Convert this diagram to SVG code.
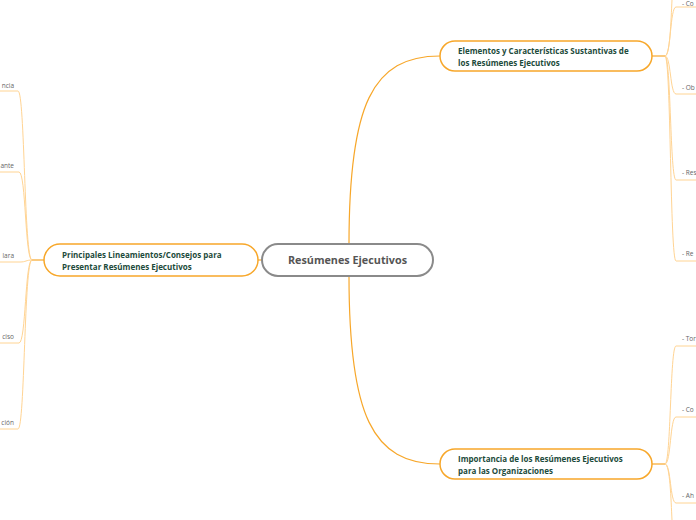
<svg xmlns="http://www.w3.org/2000/svg" width="696" height="520" viewBox="0 0 696 520">
<style>
.main{fill:none;stroke:#f7a72a;stroke-width:1.2}
.sub{fill:none;stroke:#ffd493;stroke-width:1}
.node{fill:#fff;stroke:#f7a72a;stroke-width:1.5}
.center{fill:#fff;stroke:#8a8a8a;stroke-width:2}
.nt{font-family:"Open Sans","Noto Sans",sans-serif;font-size:8px;font-weight:bold;fill:#1d4b3b}
.ct{font-family:"Open Sans","Noto Sans",sans-serif;font-size:10.8px;font-weight:bold;fill:#555}
.lt{font-family:"Open Sans","Noto Sans",sans-serif;font-size:6.5px;fill:#666}
</style>
<rect width="696" height="520" fill="#fff"/>
<g id="connectors">
<path class="main" d="M349,244 C349,105 372,56 440,56"/>
<path class="main" d="M349,276 C349,415 372,464 440,464"/>
<path class="main" d="M262,260 H258"/>
<path class="main" d="M44,260 H32"/>
<path class="main" d="M652,56 H665"/>
<path class="main" d="M652,464 H665"/>
<path class="sub" d="M32,260 C24,260 25,91 18,91 H0"/>
<path class="sub" d="M32,260 C25,260 26,172 19,172 H0"/>
<path class="sub" d="M32,260 C26,260 26,262 20,262 H0"/>
<path class="sub" d="M32,260 C25,260 26,343 19,343 H0"/>
<path class="sub" d="M32,260 C24,260 25,429 18,429 H0"/>
<path class="sub" d="M665,56 C671,56 670,7 676,7 H696"/>
<path class="sub" d="M665,56 C670,56 671,20 672,0"/>
<path class="sub" d="M665,56 C671,56 670,94 676,94 H696"/>
<path class="sub" d="M665,56 C671,56 670,180 676,180 H696"/>
<path class="sub" d="M665,56 C671,56 670,261 676,261 H696"/>
<path class="sub" d="M665,464 C671,464 670,346 676,346 H696"/>
<path class="sub" d="M665,464 C671,464 670,417 676,417 H696"/>
<path class="sub" d="M665,464 C671,464 670,503 676,503 H696"/>
<path class="sub" d="M665,464 C670,464 671,500 672,520"/>
</g>
<g id="center">
<rect class="center" x="262" y="244" width="171" height="32" rx="16"/>
<text class="ct" x="347.5" y="264" text-anchor="middle">Resúmenes Ejecutivos</text>
</g>
<g id="left">
<rect class="node" x="44" y="244" width="214" height="32" rx="16"/>
<text class="nt" x="62" y="257.5">Principales Lineamientos/Consejos para</text>
<text class="nt" x="62" y="269.5">Presentar Resúmenes Ejecutivos</text>
</g>
<g id="top">
<rect class="node" x="440" y="41" width="212" height="30" rx="15"/>
<text class="nt" x="458" y="53.5">Elementos y Características Sustantivas de</text>
<text class="nt" x="458" y="65.5">los Resúmenes Ejecutivos</text>
</g>
<g id="bottom">
<rect class="node" x="440" y="449" width="212" height="30" rx="15"/>
<text class="nt" x="458" y="461.5">Importancia de los Resúmenes Ejecutivos</text>
<text class="nt" x="458" y="473.5">para las Organizaciones</text>
</g>
<g id="left-children">
<text class="lt" x="14" y="88" text-anchor="end">ncia</text>
<text class="lt" x="14" y="168" text-anchor="end">ante</text>
<text class="lt" x="14" y="258" text-anchor="end">lara</text>
<text class="lt" x="14" y="339" text-anchor="end">ciso</text>
<text class="lt" x="14" y="425" text-anchor="end">ción</text>
</g>
<g id="right-children">
<text class="lt" x="682" y="6">- Co</text>
<text class="lt" x="682" y="90">- Ob</text>
<text class="lt" x="682" y="175">- Res</text>
<text class="lt" x="682" y="256">- Re</text>
<text class="lt" x="682" y="341">- Tor</text>
<text class="lt" x="682" y="412">- Co</text>
<text class="lt" x="682" y="498">- Ah</text>
</g>
</svg>
